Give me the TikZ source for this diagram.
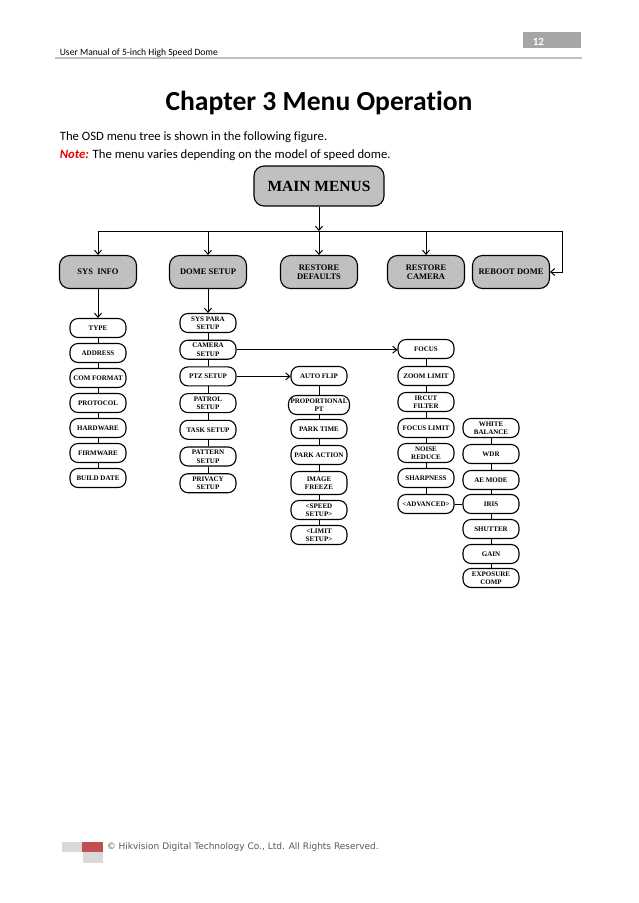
\documentclass[tikz,border=0pt]{standalone}
\usepackage{fontspec}
\setmainfont{Carlito}[Ligatures=NoCommon]
\newfontfamily\boxfont{Liberation Serif}
\newfontfamily\footfont{DejaVu Sans}
\usetikzlibrary{arrows.meta}
\definecolor{boxgray}{RGB}{192,192,192}
\definecolor{rulegray}{RGB}{191,191,191}
\definecolor{pagegray}{RGB}{166,166,166}
\definecolor{notered}{RGB}{235,0,0}
\definecolor{footred}{RGB}{192,80,77}
\definecolor{footgray}{RGB}{217,217,217}
\definecolor{foottext}{RGB}{90,90,90}
\tikzset{
  menubox/.style={draw,line width=1.1pt,fill=boxgray,rounded corners=10pt,minimum width=77pt,minimum height=33pt,
    inner sep=1pt,align=center,font=\boxfont\bfseries\fontsize{8.5}{9.5}\selectfont},
  itembox/.style={draw,line width=1.1pt,fill=white,rounded corners=8pt,minimum width=56pt,minimum height=19pt,
    inner xsep=2pt,inner ysep=1pt,align=center,font=\boxfont\bfseries\fontsize{7}{8.5}\selectfont},
}
\begin{document}
\begin{tikzpicture}[x=1pt,y=-1pt,line width=1pt,>={Straight Barb[length=4pt,width=7pt]}]
        \fill[white] (0,0) rectangle (638,903);
        \useasboundingbox (0,0) rectangle (638,903);
        % page header
        \fill[pagegray] (523,32) rectangle (581,48);
        \node[anchor=base west,text=white,font=\bfseries\fontsize{11}{11}\selectfont] (pagenum) at (529,45) {12};
        \node[anchor=base west,font=\fontsize{9.6}{10}\selectfont] (doctitle) at (56,55) {User Manual of 5-inch High Speed Dome};
        \draw[rulegray,line width=2pt] (55,58) -- (582,58);
        % chapter title and intro
        \node[anchor=base,font=\bfseries\fontsize{27.6}{28}\selectfont] (chapter) at (319,110) {Chapter 3 Menu Operation};
        \node[anchor=base west,font=\fontsize{12.7}{13}\selectfont] (intro) at (56,140) {The OSD menu tree is shown in the following figure.};
        \node[anchor=base west,font=\fontsize{12.7}{13}\selectfont] (note) at (56,158) {\textcolor{notered}{\textbf{\textit{Note:}}} The menu varies depending on the model of speed dome.};
        % main menu and first level
        \node[menubox,minimum width=130pt,minimum height=40pt,font=\boxfont\bfseries\fontsize{15.5}{16}\selectfont] (main) at (319,186) {MAIN MENUS};
        \foreach \nm/\x/\txt in {sysinfo/98/SYS~~INFO,domesetup/208/DOME SETUP,restoredef/319/{RESTORE\\DEFAULTS},restorecam/426/{RESTORE\\CAMERA},reboot/511/REBOOT DOME}{
            \node[menubox] (\nm) at (\x,272) {\txt};
        }
        \coordinate (split) at (319,231);
        \coordinate (rightend) at (562,231);
        \draw[->] (main) -- (split);
        \draw[->] (sysinfo |- split) -- (rightend) |- (reboot);
        \foreach \nm in {sysinfo,domesetup,restoredef,restorecam}{\draw[->] (\nm |- split) -- (\nm);}
        % SYS INFO items
        \foreach \txt [count=\i] in {TYPE,ADDRESS,COM FORMAT,PROTOCOL,HARDWARE,FIRMWARE,BUILD DATE}{
            \node[itembox] (info-\i) at (98,{303+25*\i}) {\txt};
        }
        % DOME SETUP items
        \foreach \txt [count=\i] in {{SYS PARA\\SETUP},{CAMERA\\SETUP},PTZ SETUP,{PATROL\\SETUP},TASK SETUP,{PATTERN\\SETUP},{PRIVACY\\SETUP}}{
            \node[itembox] (dome-\i) at (208,{296.3+26.7*\i}) {\txt};
        }
        % PTZ SETUP items
        \foreach \y/\h/\txt [count=\i] in {376/19/AUTO FLIP,405/19/{PROPORTIONAL\\PT},429/19/PARK TIME,455/19/PARK ACTION,483/23/{IMAGE\\FREEZE},510/19/{<SPEED\\SETUP>},535/19/{<LIMIT\\SETUP>}}{
            \node[itembox,minimum height=\h pt] (ptz-\i) at (319,\y) {\txt};
        }
        % CAMERA SETUP items
        \foreach \y/\txt [count=\i] in {349/FOCUS,376/ZOOM LIMIT,402/{IRCUT\\FILTER},428/FOCUS LIMIT,453/{NOISE\\REDUCE},478/SHARPNESS,504/<ADVANCED>}{
            \node[itembox] (cam-\i) at (426,\y) {\txt};
        }
        % ADVANCED items
        \foreach \y/\txt [count=\i] in {428/{WHITE\\BALANCE},454/WDR,480/AE MODE,504/IRIS,529/SHUTTER,554/GAIN,578/{EXPOSURE\\COMP}}{
            \node[itembox] (adv-\i) at (491,\y) {\txt};
        }
        % chains
        \draw[->] (sysinfo) -- (info-1);
        \draw[->] (domesetup) -- (dome-1);
        \foreach \c in {info,dome,ptz,cam,adv}{
            \foreach \i [count=\j from 2] in {1,...,6}{\draw (\c-\i) -- (\c-\j);}
        }
        \draw[->] (dome-2) -- (dome-2 -| cam-1.west);
        \draw[->] (dome-3) -- (dome-3 -| ptz-1.west);
        \draw (cam-7) -- (cam-7 -| adv-4.west);
        % page footer
        \fill[footgray] (62,842) rectangle (82,852);
        \fill[footred] (82,842) rectangle (103,852);
        \fill[footgray] (83,852) rectangle (103,863);
        \node[anchor=west,text=foottext,font=\footfont\fontsize{9}{9}\selectfont] (copyright) at (103,847) {© Hikvision Digital Technology Co., Ltd. All Rights Reserved.};
    \end{tikzpicture}
\end{document}
